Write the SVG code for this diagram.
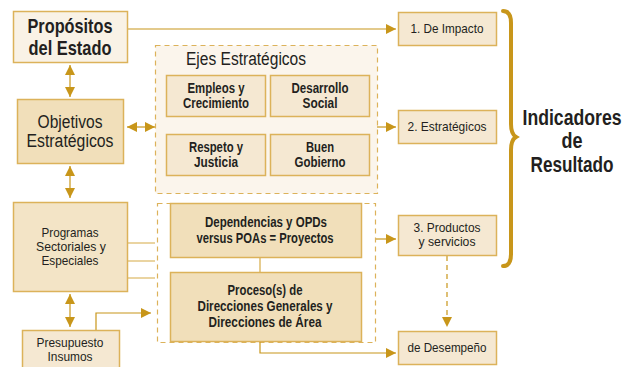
<svg xmlns="http://www.w3.org/2000/svg" width="624" height="367" viewBox="0 0 624 367">
<defs>
<marker id="ah" viewBox="0 0 10 10" refX="10" refY="5" markerWidth="10" markerHeight="10" markerUnits="userSpaceOnUse" orient="auto-start-reverse">
<path d="M0,0 L10,5 L0,10 z" fill="#c8961a"/>
</marker>
</defs>
<style>
text{font-family:"Liberation Sans",Arial,sans-serif;fill:#231f20;text-anchor:middle}
.b{font-weight:bold}
.box{stroke:#dcb25a;stroke-width:1.5}
.lt{fill:#f9f2e6}
.md{fill:#f5e8d2}
.dk{fill:#f1dfba}
.dash{fill:#fbf5ec;stroke:#dcb25a;stroke-width:1.2;stroke-dasharray:5,4}
.ln{fill:none;stroke:#c8961a;stroke-width:1.2}
.la{fill:none;stroke:#d6aa45;stroke-width:1.2}
</style>
<rect x="0" y="0" width="624" height="367" fill="#ffffff"/>
<g id="ejes">
<rect class="dash" x="155.5" y="45.5" width="222" height="148"/>
<text x="246" y="65" font-size="18" textLength="120" lengthAdjust="spacingAndGlyphs">Ejes Estratégicos</text>
</g>
<g id="ops">
<rect class="dash" x="157.5" y="203.5" width="218" height="139" style="fill:#ffffff"/>
</g>
<g id="connectors">
<path class="ln" d="M128,29 H396" marker-end="url(#ah)"/>
<path class="ln" d="M70,65 V97" marker-start="url(#ah)" marker-end="url(#ah)"/>
<path class="ln" d="M127,127 H155" marker-start="url(#ah)" marker-end="url(#ah)"/>
<path class="ln" d="M377,127 H396" marker-end="url(#ah)"/>
<path class="ln" d="M70,166 V198" marker-start="url(#ah)" marker-end="url(#ah)"/>
<path class="la" d="M127,243 H155 M127,261 H155 M127,278 H155"/>
<path class="ln" d="M70,294 V327" marker-start="url(#ah)" marker-end="url(#ah)"/>
<path class="ln" d="M96,330 V313 H151" marker-end="url(#ah)"/>
<path class="ln" d="M376,239 H396" marker-end="url(#ah)"/>
<path class="la" d="M260,257 V272"/>
<path class="ln" d="M260,342 V353 H396" marker-end="url(#ah)"/>
<path class="ln" d="M447,256 V327" stroke-dasharray="5,4" marker-end="url(#ah)"/>
<path d="M503,11 Q511,11 511,23 V124 Q511,134 516,137 Q511,140 511,150 V254 Q511,266 503,266" fill="none" stroke="#c8961a" stroke-width="4" stroke-linecap="round"/>
</g>
<g id="propositos">
<rect class="box lt" x="13.5" y="11.5" width="114" height="51"/>
<text class="b" x="70" y="33" font-size="21" textLength="85" lengthAdjust="spacingAndGlyphs">Propósitos</text>
<text class="b" x="70" y="55" font-size="21" textLength="83" lengthAdjust="spacingAndGlyphs">del Estado</text>
</g>
<g id="objetivos">
<rect class="box dk" x="17.5" y="99.5" width="106" height="64"/>
<text x="70" y="128" font-size="18" textLength="65" lengthAdjust="spacingAndGlyphs">Objetivos</text>
<text x="70" y="147" font-size="18" textLength="87" lengthAdjust="spacingAndGlyphs">Estratégicos</text>
</g>
<g id="empleos">
<rect class="box md" x="166.5" y="75.5" width="99" height="41"/>
<text class="b" x="216" y="93" font-size="14" textLength="57" lengthAdjust="spacingAndGlyphs">Empleos y</text>
<text class="b" x="216" y="108" font-size="14" textLength="66" lengthAdjust="spacingAndGlyphs">Crecimiento</text>
</g>
<g id="desarrollo">
<rect class="box md" x="270.5" y="75.5" width="99" height="41"/>
<text class="b" x="320" y="93" font-size="14" textLength="57" lengthAdjust="spacingAndGlyphs">Desarrollo</text>
<text class="b" x="320" y="108" font-size="14" textLength="35" lengthAdjust="spacingAndGlyphs">Social</text>
</g>
<g id="respeto">
<rect class="box md" x="166.5" y="134.5" width="99" height="41"/>
<text class="b" x="216" y="152" font-size="14" textLength="54" lengthAdjust="spacingAndGlyphs">Respeto y</text>
<text class="b" x="216" y="167" font-size="14" textLength="44" lengthAdjust="spacingAndGlyphs">Justicia</text>
</g>
<g id="buen">
<rect class="box md" x="270.5" y="134.5" width="99" height="41"/>
<text class="b" x="320" y="152" font-size="14" textLength="28" lengthAdjust="spacingAndGlyphs">Buen</text>
<text class="b" x="320" y="167" font-size="14" textLength="51" lengthAdjust="spacingAndGlyphs">Gobierno</text>
</g>
<g id="programas">
<rect class="box dk" x="13.5" y="202.5" width="114" height="89" style="fill:#f3e4c6"/>
<text x="70" y="237" font-size="13.5" textLength="57" lengthAdjust="spacingAndGlyphs">Programas</text>
<text x="71" y="251" font-size="13.5" textLength="70" lengthAdjust="spacingAndGlyphs">Sectoriales y</text>
<text x="70" y="265" font-size="13.5" textLength="57" lengthAdjust="spacingAndGlyphs">Especiales</text>
</g>
<g id="dependencias">
<rect class="box dk" x="170.5" y="203.5" width="191" height="54"/>
<text class="b" x="266" y="227" font-size="14" textLength="122" lengthAdjust="spacingAndGlyphs">Dependencias y OPDs</text>
<text class="b" x="265" y="243" font-size="14" textLength="137" lengthAdjust="spacingAndGlyphs">versus POAs = Proyectos</text>
</g>
<g id="proceso">
<rect class="box dk" x="170.5" y="272.5" width="191" height="69"/>
<text class="b" x="265" y="295" font-size="14" textLength="75" lengthAdjust="spacingAndGlyphs">Proceso(s) de</text>
<text class="b" x="265" y="311" font-size="14" textLength="135" lengthAdjust="spacingAndGlyphs">Direcciones Generales y</text>
<text class="b" x="265" y="327" font-size="14" textLength="113" lengthAdjust="spacingAndGlyphs">Direcciones de Área</text>
</g>
<g id="presupuesto">
<rect class="box md" x="22.5" y="330.5" width="97" height="40"/>
<text x="70" y="347" font-size="12.5" textLength="67" lengthAdjust="spacingAndGlyphs">Presupuesto</text>
<text x="70" y="361" font-size="12.5" textLength="45" lengthAdjust="spacingAndGlyphs">Insumos</text>
</g>
<g id="impacto">
<rect class="box md" x="398.5" y="12.5" width="98" height="33"/>
<text x="447" y="33" font-size="13.5" textLength="73" lengthAdjust="spacingAndGlyphs">1. De Impacto</text>
</g>
<g id="estrategicos">
<rect class="box md" x="398.5" y="110.5" width="98" height="33"/>
<text x="447" y="131" font-size="13.5" textLength="79" lengthAdjust="spacingAndGlyphs">2. Estratégicos</text>
</g>
<g id="productos">
<rect class="box md" x="398.5" y="215.5" width="98" height="40"/>
<text x="447" y="232" font-size="12.5" textLength="67" lengthAdjust="spacingAndGlyphs">3. Productos</text>
<text x="447" y="246" font-size="12.5" textLength="57" lengthAdjust="spacingAndGlyphs">y servicios</text>
</g>
<g id="desempeno">
<rect class="box md" x="398.5" y="331.5" width="98" height="33"/>
<text x="447" y="352" font-size="13.5" textLength="79" lengthAdjust="spacingAndGlyphs">de Desempeño</text>
</g>
<g id="indicadores">
<text class="b" x="572" y="125" font-size="22" textLength="99" lengthAdjust="spacingAndGlyphs">Indicadores</text>
<text class="b" x="572" y="148" font-size="22" textLength="21" lengthAdjust="spacingAndGlyphs">de</text>
<text class="b" x="572" y="172" font-size="22" textLength="83" lengthAdjust="spacingAndGlyphs">Resultado</text>
</g>
</svg>
